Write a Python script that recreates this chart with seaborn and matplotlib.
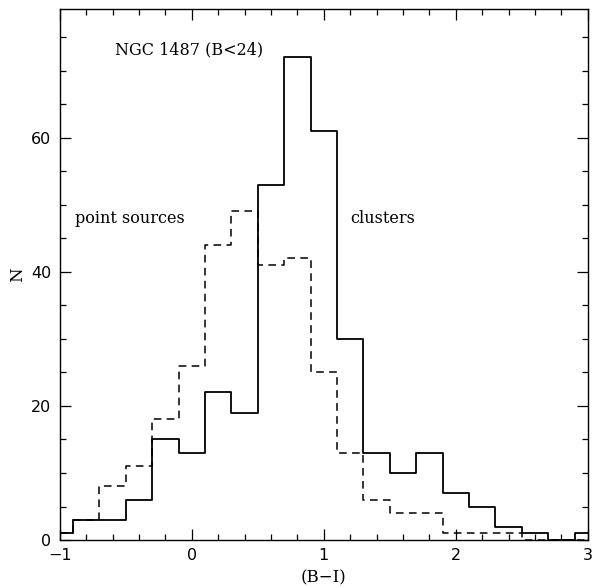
import numpy as np
import pandas as pd
import matplotlib
matplotlib.use("Agg")
import matplotlib.pyplot as plt
from matplotlib.ticker import MultipleLocator
import seaborn as sns

# (B-I) colour bins of width 0.2, edges at odd tenths
bin_edges = [-1.1, -0.9, -0.7, -0.5, -0.3, -0.1, 0.1, 0.3, 0.5, 0.7, 0.9,
             1.1, 1.3, 1.5, 1.7, 1.9, 2.1, 2.3, 2.5, 2.7, 2.9, 3.1]
bin_centers = [round((a + b) / 2, 2) for a, b in zip(bin_edges[:-1], bin_edges[1:])]

# counts per bin
clusters = [1, 3, 3, 6, 15, 13, 22, 19, 53, 72, 61, 30, 13, 10, 13, 7, 5, 2, 1, 0, 1]
point_sources = [1, 3, 8, 11, 18, 26, 44, 49, 41, 42, 25, 13, 6, 4, 4, 1, 1, 1, 0, 0, 0]

title_text = "NGC 1487 (B<24)"
label_left = "point sources"
label_right = "clusters"

df = pd.DataFrame({"color": bin_centers, "clusters": clusters,
                   "point_sources": point_sources})

sns.set_style("ticks")
plt.rcParams["font.family"] = ["DejaVu Sans"]
plt.rcParams["text.color"] = "black"
plt.rcParams["axes.labelcolor"] = "black"

fig = plt.figure(figsize=(5.92, 5.87), dpi=100)
ax = fig.add_axes([0.101, 0.080, 0.892, 0.905])

sns.histplot(data=df, x="color", weights="clusters", bins=bin_edges,
             element="step", fill=False, color="black", linewidth=1.3, ax=ax)
sns.histplot(data=df, x="color", weights="point_sources", bins=bin_edges,
             element="step", fill=False, color="black", linewidth=1.1,
             linestyle=(0, (5, 3.5)), ax=ax)

ax.set_xlim(-1, 3)
ax.set_ylim(0, 1.1 * max(clusters))

ax.xaxis.set_major_locator(MultipleLocator(1))
ax.xaxis.set_minor_locator(MultipleLocator(0.2))
ax.yaxis.set_major_locator(MultipleLocator(20))
ax.yaxis.set_minor_locator(MultipleLocator(5))
ax.tick_params(which="both", direction="in", top=True, right=True,
               color="black", width=0.9, labelsize=11.5, labelcolor="black")
ax.tick_params(which="major", length=8, pad=6)
ax.tick_params(which="minor", length=4)
for s in ax.spines.values():
    s.set_linewidth(1.0)
    s.set_color("black")

serif = ["DejaVu Serif"]
ax.set_xlabel("(B\u2212I)", fontsize=12, family=serif, labelpad=4, color="black")
ax.set_ylabel("N", fontsize=12, family=serif, labelpad=4, color="black")

ax.text(-0.58, 73.1, title_text, fontsize=11.5, family=serif, va="center", ha="left", color="black")
ax.text(-0.885, 48, label_left, fontsize=11.5, family=serif, va="center", ha="left", color="black")
ax.text(1.2, 48, label_right, fontsize=11.5, family=serif, va="center", ha="left", color="black")

fig.savefig("out.png", dpi=100)
